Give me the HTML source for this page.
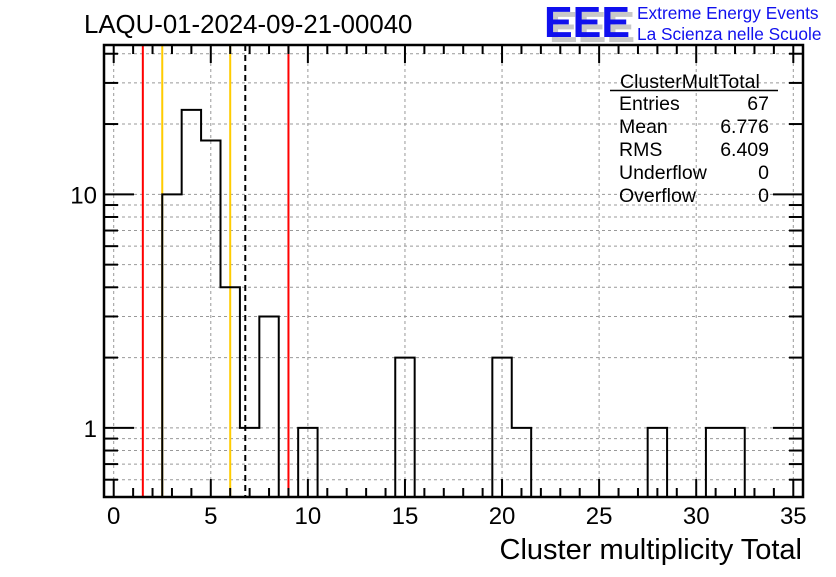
<!DOCTYPE html>
<html><head><meta charset="utf-8"><style>
body{margin:0;background:#fff;}
svg text{font-family:"Liberation Sans",sans-serif;}
</style></head><body>
<svg width="836" height="572" viewBox="0 0 836 572" xmlns="http://www.w3.org/2000/svg">
<rect width="836" height="572" fill="#fff"/>
<g id="grid"></g>
<g id="lines"></g>
<path id="hist" fill="none" stroke="#000" stroke-width="2"/>
<g id="axes"></g>
<text x="84" y="33" font-size="25.8">LAQU-01-2024-09-21-00040</text>
<g>
<text x="549" y="42" font-size="44" font-weight="bold" fill="#c8c8c8" textLength="86" lengthAdjust="spacingAndGlyphs">EEE</text>
<text x="544" y="37" font-size="44" font-weight="bold" fill="#1010ee" textLength="86" lengthAdjust="spacingAndGlyphs">EEE</text>
<text x="637" y="19" font-size="17.3" fill="#1010ee">Extreme Energy Events</text>
<text x="637" y="40" font-size="17.3" fill="#1010ee">La Scienza nelle Scuole</text>
</g>
<g font-size="19.5">
<text x="620" y="88">ClusterMultTotal</text>
<line x1="610" y1="90.5" x2="778" y2="90.5" stroke="#000" stroke-width="1.5"/>
<text x="619" y="110">Entries</text><text x="769" y="110" text-anchor="end">67</text>
<text x="619" y="133">Mean</text><text x="769" y="133" text-anchor="end">6.776</text>
<text x="619" y="156">RMS</text><text x="769" y="156" text-anchor="end">6.409</text>
<text x="619" y="179">Underflow</text><text x="769" y="179" text-anchor="end">0</text>
<text x="619" y="202">Overflow</text><text x="769" y="202" text-anchor="end">0</text>
</g>
<text x="802" y="559" font-size="29" text-anchor="end">Cluster multiplicity Total</text>
</svg>
<script>
const binCenters=[3,4,5,6,7,8,9,10,15,20,21,28,31,32];
const binCounts=[10,23,17,4,1,3,0,1,2,2,1,1,1,1];
const xTicks=[0,5,10,15,20,25,30,35];
const yTicks=[1,10];
const vLines=[1.5,9,2.5,6,6.776];
const vColors=['#ff0000','#ff0000','#ffcc00','#ffcc00','#000'];
const L=104,R=803,T=45,B=497,XMIN=-0.5,XMAX=35.5,YMIN=0.506,YMAX=43.6;
const sx=v=>L+(v-XMIN)/(XMAX-XMIN)*(R-L);
const sy=v=>v<=0?B:B-(Math.log10(v)-Math.log10(YMIN))/(Math.log10(YMAX)-Math.log10(YMIN))*(B-T);
const NS='http://www.w3.org/2000/svg';
function mk(tag,attrs,parent){const e=document.createElementNS(NS,tag);for(const k in attrs)e.setAttribute(k,attrs[k]);parent.appendChild(e);return e;}
const grid=document.getElementById('grid');
const ygrid=[0.6,0.7,0.8,0.9,1,2,3,4,5,6,7,8,9,10,20,30,40];
ygrid.forEach(v=>{const e=mk('line',{x1:L,x2:R,y1:sy(v),y2:sy(v),stroke:'#999','stroke-dasharray':'3,3','stroke-width':1},grid);

});
xTicks.forEach(v=>{const e=mk('line',{x1:sx(v),x2:sx(v),y1:T,y2:B,stroke:'#999','stroke-dasharray':'3,3','stroke-width':1},grid);

});
const lg=document.getElementById('lines');
vLines.forEach((v,i)=>{const a={x1:sx(v),x2:sx(v),y1:T,y2:B,stroke:vColors[i],'stroke-width':2};if(vColors[i]==='#000')a['stroke-dasharray']='6,4';const e=mk('line',a,lg);

});
const counts={};binCenters.forEach((c,i)=>counts[c]=binCounts[i]);
let d='';const lo=Math.min(...binCenters),hi=Math.max(...binCenters);
for(let c=lo;c<=hi;c++){const v=counts[c]||0;const xl=sx(c-0.5),xr=sx(c+0.5);
 if(c===lo)d+=`M${xl},${B}`;
 d+=` L${xl},${sy(v)} L${xr},${sy(v)}`;}
d+=` L${sx(hi+0.5)},${B}`;
document.getElementById('hist').setAttribute('d',d);
const ax=document.getElementById('axes');
mk('rect',{x:L,y:T,width:R-L,height:B-T,fill:'none',stroke:'#000','stroke-width':2.5},ax);
for(let v=0;v<=35;v++){const big=v%5===0,len=big?18:9;
 mk('line',{x1:sx(v),x2:sx(v),y1:B,y2:B-len,stroke:'#000','stroke-width':2},ax);
 mk('line',{x1:sx(v),x2:sx(v),y1:T,y2:T+len,stroke:'#000','stroke-width':2},ax);}
ygrid.forEach(v=>{const big=(v===1||v===10),len=big?30:14;
 mk('line',{x1:L,x2:L+len,y1:sy(v),y2:sy(v),stroke:'#000','stroke-width':2},ax);
 mk('line',{x1:R,x2:R-len,y1:sy(v),y2:sy(v),stroke:'#000','stroke-width':2},ax);});
xTicks.forEach(v=>{const t=mk('text',{x:sx(v),y:524,'font-size':24,'text-anchor':'middle'},ax);t.textContent=v;

});
yTicks.forEach(v=>{const t=mk('text',{x:97,y:sy(v)+9,'font-size':24,'text-anchor':'end'},ax);t.textContent=v;

});
</script>
</body></html>
